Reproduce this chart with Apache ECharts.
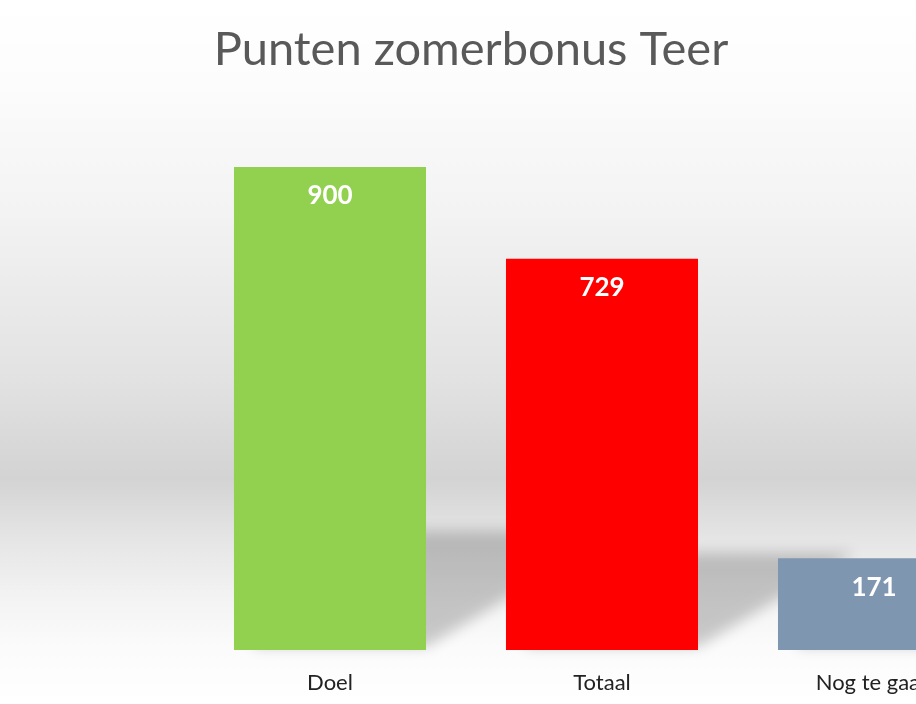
<!DOCTYPE html>
<html>
<head>
<meta charset="utf-8">
<script src="https://cdn.jsdelivr.net/npm/echarts@6/dist/echarts.min.js"></script>
<style>
  html, body { margin: 0; padding: 0; }
  #main { width: 916px; height: 704px; }
</style>
</head>
<body>
<div id="main"></div>
<script>
const categories = ["Doel", "Totaal", "Nog te gaan"];
const values = [900, 729, 171];
const barColors = ["#92D050", "#FF0000", "#7F96B1"];

const chart = echarts.init(document.getElementById("main"));

// floor shadow behind each bar, drawn only as a blurred canvas shadow
const OFF = 3000;
const renderShadow = (params, api) => {
  const idx = api.value(0);
  const top = api.coord([idx, api.value(1)]);
  const base = api.coord([idx, 0]);
  const bw = api.size([1, 0])[0] * 0.706;
  const xl = base[0] - bw / 2 + 20; // keep blur from leaking left of the bar
  const xr = base[0] + bw / 2;
  const B = base[1] - 3;
  const s = 0.24 * (base[1] - top[1]);
  const w = s / 0.6;
  return {
    type: "polygon",
    shape: {
      points: [
        [xl - OFF, B - s],
        [xr + w - OFF, B - s],
        [xr - OFF, B],
        [xl - OFF, B],
      ],
    },
    style: {
      fill: "#000",
      shadowColor: "rgba(0,0,0,0.2)",
      shadowBlur: 14,
      shadowOffsetX: OFF,
      shadowOffsetY: 0,
    },
  };
};

option = {
  backgroundColor: new echarts.graphic.LinearGradient(0, 0, 0, 1, [
    { offset: 0, color: "#ffffff" },
    { offset: 0.12, color: "#fcfcfc" },
    { offset: 0.3, color: "#f3f3f3" },
    { offset: 0.54, color: "#e2e2e2" },
    { offset: 0.68, color: "#d3d3d3" },
    { offset: 0.77, color: "#e6e6e6" },
    { offset: 0.85, color: "#f3f3f3" },
    { offset: 0.92, color: "#fbfbfb" },
    { offset: 1, color: "#ffffff" },
  ]),
  animation: false,
  title: {
    text: "Punten zomerbonus Teer",
    left: 466,
    top: 21,
    textAlign: "center",
    textStyle: {
      fontFamily: "Lato",
      fontWeight: "normal",
      fontSize: 47,
      color: "#595959",
    },
  },
  grid: {
    left: 194,
    width: 816,
    top: 113.3,
    bottom: 54,
    outerBoundsMode: "none",
  },
  xAxis: {
    type: "category",
    data: categories,
    axisLine: { show: false },
    axisTick: { show: false },
    axisLabel: {
      margin: 22,
      fontFamily: "Lato",
      fontSize: 22,
      color: "#222",
    },
  },
  yAxis: {
    type: "value",
    min: 0,
    max: 1000,
    show: false,
  },
  series: [
    {
      type: "custom",
      z: 1,
      clip: false,
      silent: true,
      renderItem: renderShadow,
      data: values.map((v, i) => [i, v]),
    },
    {
      type: "bar",
      z: 2,
      barCategoryGap: "29.4%",
      data: values.map((v, i) => ({
        value: v,
        itemStyle: { color: barColors[i] },
      })),
      label: {
        show: true,
        position: "insideTop",
        distance: 16,
        fontFamily: "Lato",
        fontWeight: "bold",
        fontSize: 26,
        color: "#fff",
      },
    },
  ],
};

chart.setOption(option);
</script>
</body>
</html>
